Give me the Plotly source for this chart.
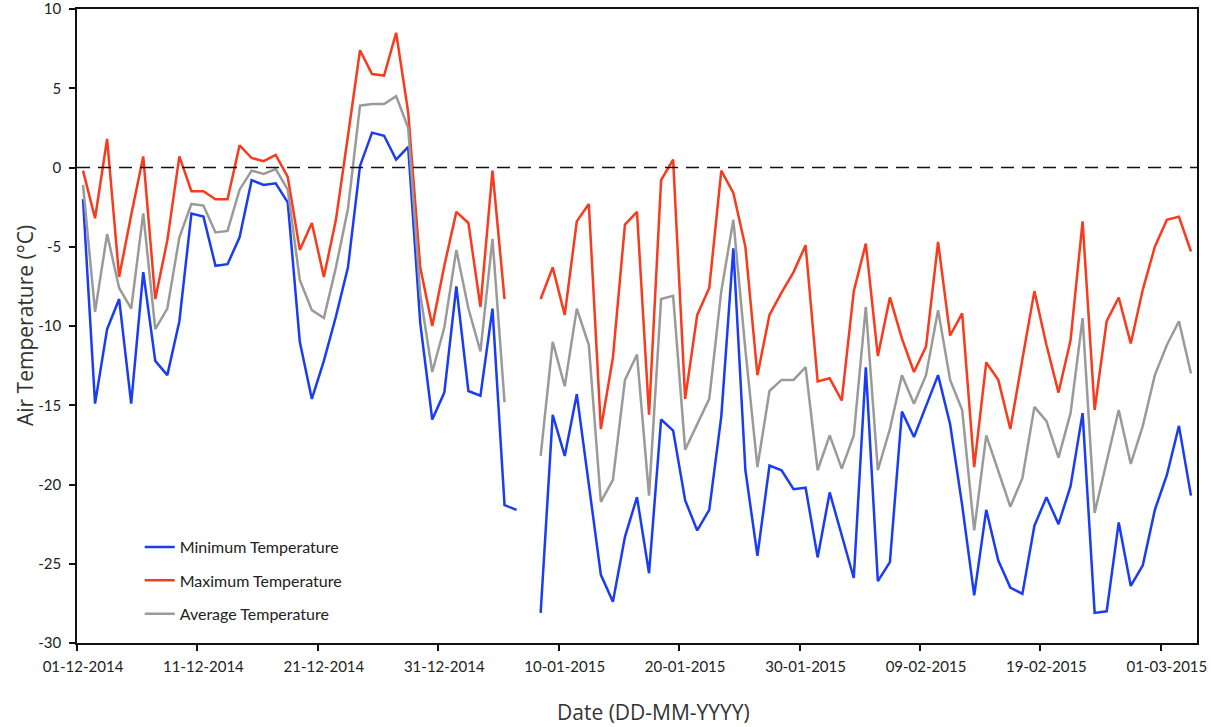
import pandas as pd
import plotly.graph_objects as go

# ---- data (one value per day, 01-12-2014 .. 03-03-2015) ----
start_date = "2014-12-01"
n_days = 93

min_temp = [-2.0, -14.9, -10.2, -8.3, -14.9, -6.6, -12.2, -13.1, -9.7, -2.9,
            -3.1, -6.2, -6.1, -4.4, -0.8, -1.1, -1.0, -2.2, -11.0, -14.6,
            -12.2, -9.4, -6.3, 0.1, 2.2, 2.0, 0.5, 1.3, -9.8, -15.9,
            -14.2, -7.5, -14.1, -14.4, -8.9, -21.3, -21.6, None, -28.1, -15.6,
            -18.2, -14.3, -20.0, -25.7, -27.4, -23.3, -20.8, -25.6, -15.9, -16.6,
            -21.0, -22.9, -21.6, -15.7, -5.1, -19.1, -24.5, -18.8, -19.1, -20.3,
            -20.2, -24.6, -20.5, -23.2, -25.9, -12.6, -26.1, -24.9, -15.4, -17.0,
            -15.0, -13.1, -16.2, -21.3, -27.0, -21.6, -24.8, -26.5, -26.9, -22.6,
            -20.8, -22.5, -20.1, -15.5, -28.1, -28.0, -22.4, -26.4, -25.1, -21.6,
            -19.4, -16.3, -20.7]

max_temp = [-0.2, -3.2, 1.8, -6.9, -3.0, 0.7, -8.3, -4.6, 0.7, -1.5,
            -1.5, -2.0, -2.0, 1.4, 0.6, 0.4, 0.8, -0.6, -5.2, -3.5,
            -6.9, -3.3, 2.0, 7.4, 5.9, 5.8, 8.5, 3.5, -6.3, -10.0,
            -6.2, -2.8, -3.5, -8.8, -0.2, -8.3, None, None, -8.3, -6.3,
            -9.3, -3.4, -2.3, -16.5, -12.0, -3.6, -2.8, -15.6, -0.8, 0.5,
            -14.6, -9.3, -7.6, -0.2, -1.6, -5.0, -13.1, -9.3, -7.9, -6.6,
            -4.9, -13.5, -13.3, -14.7, -7.8, -4.8, -11.9, -8.2, -10.8, -12.9,
            -11.3, -4.7, -10.6, -9.2, -18.9, -12.3, -13.4, -16.5, -12.1, -7.8,
            -11.2, -14.2, -10.9, -3.4, -15.3, -9.7, -8.2, -11.1, -7.7, -5.0,
            -3.3, -3.1, -5.3]

avg_temp = [-1.1, -9.1, -4.2, -7.6, -8.9, -2.9, -10.2, -8.9, -4.4, -2.3,
            -2.4, -4.1, -4.0, -1.4, -0.2, -0.4, -0.1, -1.4, -7.1, -9.0,
            -9.5, -6.3, -2.6, 3.9, 4.0, 4.0, 4.5, 2.5, -8.0, -12.9,
            -10.1, -5.2, -8.9, -11.6, -4.5, -14.8, None, None, -18.2, -11.0,
            -13.8, -8.9, -11.2, -21.1, -19.7, -13.4, -11.8, -20.7, -8.3, -8.1,
            -17.8, -16.2, -14.6, -7.8, -3.3, -11.5, -18.9, -14.1, -13.4, -13.4,
            -12.6, -19.1, -16.9, -19.0, -16.9, -8.8, -19.1, -16.5, -13.1, -14.9,
            -13.1, -9.0, -13.4, -15.3, -22.9, -16.9, -19.1, -21.4, -19.6, -15.1,
            -16.0, -18.3, -15.5, -9.5, -21.8, -18.6, -15.3, -18.7, -16.3, -13.1,
            -11.2, -9.7, -13.0]

tick_dates = ["2014-12-01", "2014-12-11", "2014-12-21", "2014-12-31", "2015-01-10",
              "2015-01-20", "2015-01-30", "2015-02-09", "2015-02-19", "2015-03-01"]
tick_labels = ["01-12-2014", "11-12-2014", "21-12-2014", "31-12-2014", "10-01-2015",
               "20-01-2015", "30-01-2015", "09-02-2015", "19-02-2015", "01-03-2015"]

y_tick_values = [-30, -25, -20, -15, -10, -5, 0, 5, 10]
y_tick_labels = ["-30", "-25", "-20", "-15", "-10", "-5", "0", "5", "10"]

series_names = ["Minimum Temperature", "Maximum Temperature", "Average Temperature"]
series_colors = ["#1a3cf5", "#fa3a1c", "#9a9a9a"]

# each daily value is plotted in the middle of its day
dates = pd.date_range(start_date + " 12:00", periods=n_days, freq="D")

fig = go.Figure()
for name, vals, col in zip(series_names, [min_temp, max_temp, avg_temp], series_colors):
    fig.add_trace(go.Scatter(
        x=dates, y=vals, mode="lines", name=name, legendgroup=name,
        line=dict(color=col, width=2.5), connectgaps=False,
    ))

fig.add_shape(type="line", xref="paper", yref="y", x0=0, x1=1, y0=0, y1=0,
              line=dict(color="#111111", width=1.6, dash="13px,8px"), layer="above")

tick_font = dict(family="Lato, 'Open Sans', sans-serif", size=15, color="#222222")
title_font = dict(family="'Open Sans', Lato, sans-serif", size=21, color="#333333")

L, R, T, B = 77, 15, 9, 84
PW, PH = 1212 - L - R, 727 - T - B

fig.update_layout(
    width=1212, height=727,
    margin=dict(l=L, r=R, t=T, b=B, autoexpand=False),
    paper_bgcolor="white", plot_bgcolor="white",
    showlegend=True,
    legend=dict(x=0.056, y=0.178, xanchor="left", yanchor="top",
                font=dict(family="Lato, 'Open Sans', sans-serif", size=16, color="#222222"),
                bgcolor="rgba(0,0,0,0)", tracegroupgap=9.5, itemwidth=30),
    xaxis=dict(
        type="date", range=["2014-12-01", "2015-03-04"], automargin=False,
        tickvals=tick_dates, ticktext=tick_labels, ticklabelshift=6,
        ticklabelstandoff=3, ticklabeloverflow="allow",
        ticks="outside", ticklen=6, tickwidth=1.5, tickcolor="#111111",
        showline=True, linecolor="#111111", linewidth=1.6, mirror=True,
        showgrid=False, zeroline=False, tickfont=tick_font,
    ),
    yaxis=dict(
        range=[-30, 10], automargin=False,
        tickvals=y_tick_values, ticktext=y_tick_labels,
        ticklabelstandoff=5, ticklabeloverflow="allow",
        ticks="outside", ticklen=6, tickwidth=1.5, tickcolor="#111111",
        showline=True, linecolor="#111111", linewidth=1.6, mirror=True,
        showgrid=False, zeroline=False, tickfont=tick_font,
    ),
)

fig.add_annotation(text="Air Temperature (°C)", xref="paper", yref="paper",
                   x=(25 - L) / PW, y=0.5, xanchor="center", yanchor="middle",
                   textangle=-90, showarrow=False, font=title_font)
fig.add_annotation(text="Date (DD-MM-YYYY)", xref="paper", yref="paper",
                   x=(654 - L) / PW, y=-(712 - (T + PH)) / PH, xanchor="center", yanchor="middle",
                   showarrow=False, font=title_font)

fig.write_html(
    "out.html",
    config={"displayModeBar": False},
    post_script="document.body.style.margin='0';document.body.style.overflow='hidden';",
)
